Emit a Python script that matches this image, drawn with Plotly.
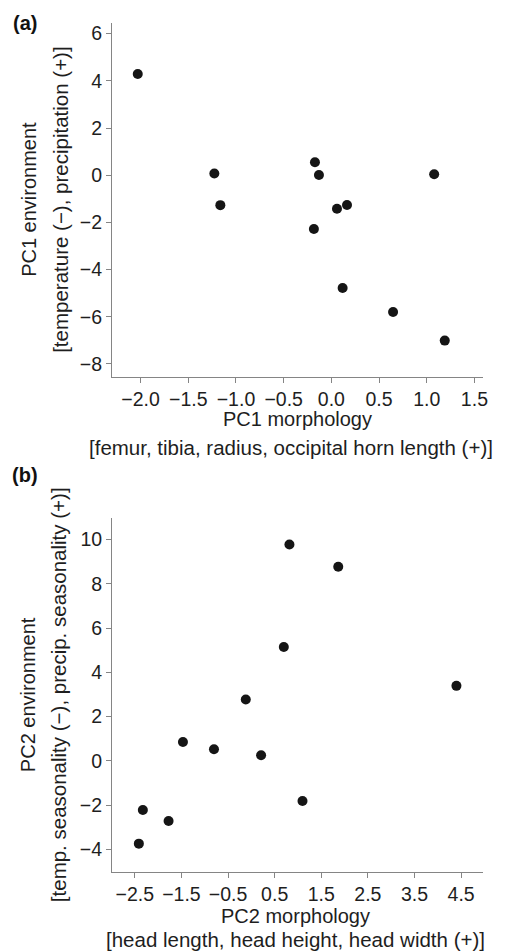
import plotly.graph_objects as go

# Panel (a) data
pc1_morph = [-2.03, -1.227, -1.164, -0.172, -0.130, -0.183, 0.059, 0.164, 1.078, 0.118, 0.647, 1.189]
pc1_env = [4.29, 0.07, -1.27, 0.55, 0.01, -2.28, -1.42, -1.26, 0.04, -4.78, -5.80, -7.01]

# Panel (b) data
pc2_morph = [0.817, 1.864, 0.696, 4.40, -0.12, -1.468, -0.802, 0.209, 1.097, -2.328, -1.776, -2.414]
pc2_env = [9.77, 8.76, 5.14, 3.39, 2.77, 0.86, 0.53, 0.26, -1.81, -2.21, -2.71, -3.73]

# Ticks
a_xticks = [-2.0, -1.5, -1.0, -0.5, 0.0, 0.5, 1.0, 1.5]
a_xtext = ["\u22122.0", "\u22121.5", "\u22121.0", "\u22120.5", "0.0", "0.5", "1.0", "1.5"]
a_yticks = [-8, -6, -4, -2, 0, 2, 4, 6]
a_ytext = ["\u22128", "\u22126", "\u22124", "\u22122", "0", "2", "4", "6"]
b_xticks = [-2.5, -1.5, -0.5, 0.5, 1.5, 2.5, 3.5, 4.5]
b_xtext = ["\u22122.5", "\u22121.5", "\u22120.5", "0.5", "1.5", "2.5", "3.5", "4.5"]
b_yticks = [-4, -2, 0, 2, 4, 6, 8, 10]
b_ytext = ["\u22124", "\u22122", "0", "2", "4", "6", "8", "10"]

FONT = "Liberation Sans, Arial, Helvetica, sans-serif"
TXT = "#1e1e1e"
AX = "#858585"

fig = go.Figure()
fig.add_trace(go.Scatter(x=pc1_morph, y=pc1_env, mode="markers",
                         marker=dict(size=10, color="#151515"), xaxis="x", yaxis="y",
                         showlegend=False))
fig.add_trace(go.Scatter(x=pc2_morph, y=pc2_env, mode="markers",
                         marker=dict(size=10, color="#151515"), xaxis="x2", yaxis="y2",
                         showlegend=False))

axis_common = dict(showline=True, linecolor=AX, linewidth=1, ticks="outside", ticklen=5,
                   tickcolor=AX, tickwidth=1, showgrid=False, zeroline=False,
                   tickfont=dict(family=FONT, size=19.5, color=TXT))

# The page body has an 8px margin, so the figure is 8px smaller than the window.
fig.update_layout(
    width=497, height=943,
    margin=dict(l=104, r=22, t=15, b=79),
    paper_bgcolor="white", plot_bgcolor="white",
    xaxis=dict(domain=[0, 1], anchor="y", range=[-2.30, 1.59],
               tickvals=a_xticks, ticktext=a_xtext, **axis_common),
    yaxis=dict(domain=[0.5834, 1], anchor="x", range=[-8.54, 6.45],
               tickvals=a_yticks, ticktext=a_ytext, **axis_common),
    xaxis2=dict(domain=[0, 1], anchor="y2", range=[-2.99, 4.97],
                tickvals=b_xticks, ticktext=b_xtext, **axis_common),
    yaxis2=dict(domain=[0, 0.4166], anchor="x2", range=[-5.01, 10.95],
                tickvals=b_yticks, ticktext=b_ytext, **axis_common),
)

tf = dict(family=FONT, size=20, color=TXT)
tf2 = dict(family=FONT, size=20.5, color=TXT)
ann = []
# Panel (a) titles
ann.append(dict(text="PC1 morphology", xref="x domain", yref="y domain", x=0.5, y=0,
                xanchor="center", yanchor="middle", yshift=-42, showarrow=False, font=tf))
ann.append(dict(text="[femur, tibia, radius, occipital horn length (+)]", xref="x domain", yref="y domain",
                x=0.5, y=0, xanchor="center", yanchor="middle", yshift=-71, xshift=-7,
                showarrow=False, font=tf2))
ann.append(dict(text="PC1 environment", xref="x domain", yref="y domain", x=0, y=0.5,
                xanchor="center", yanchor="middle", xshift=-83, textangle=-90,
                showarrow=False, font=tf))
ann.append(dict(text="[temperature (\u2212), precipitation (+)]", xref="x domain", yref="y domain",
                x=0, y=0.5, xanchor="center", yanchor="middle", xshift=-51, textangle=-90,
                showarrow=False, font=tf2))
# Panel (b) titles
ann.append(dict(text="PC2 morphology", xref="x2 domain", yref="y2 domain", x=0.5, y=0,
                xanchor="center", yanchor="middle", yshift=-44, xshift=-2, showarrow=False, font=tf))
ann.append(dict(text="[head length, head height, head width (+)]", xref="x2 domain", yref="y2 domain",
                x=0.5, y=0, xanchor="center", yanchor="middle", yshift=-67, xshift=-2,
                showarrow=False, font=tf2))
ann.append(dict(text="PC2 environment", xref="x2 domain", yref="y2 domain", x=0, y=0.5,
                xanchor="center", yanchor="middle", xshift=-84, textangle=-90,
                showarrow=False, font=tf))
ann.append(dict(text="[temp. seasonality (\u2212), precip. seasonality (+)]", xref="x2 domain",
                yref="y2 domain", x=0, y=0.5, xanchor="center", yanchor="middle", xshift=-54,
                textangle=-90, showarrow=False, font=tf2))
# Panel labels
lf = dict(family=FONT, size=20, color="#111111")
ann.append(dict(text="<b>(a)</b>", xref="paper", yref="paper", x=0, y=1, xshift=-87, yshift=0,
                xanchor="center", yanchor="middle", showarrow=False, font=lf))
ann.append(dict(text="<b>(b)</b>", xref="paper", yref="paper", x=0, y=0.4166, xshift=-87, yshift=43,
                xanchor="center", yanchor="middle", showarrow=False, font=lf))

fig.update_layout(annotations=ann)
fig.write_html("out.html")
